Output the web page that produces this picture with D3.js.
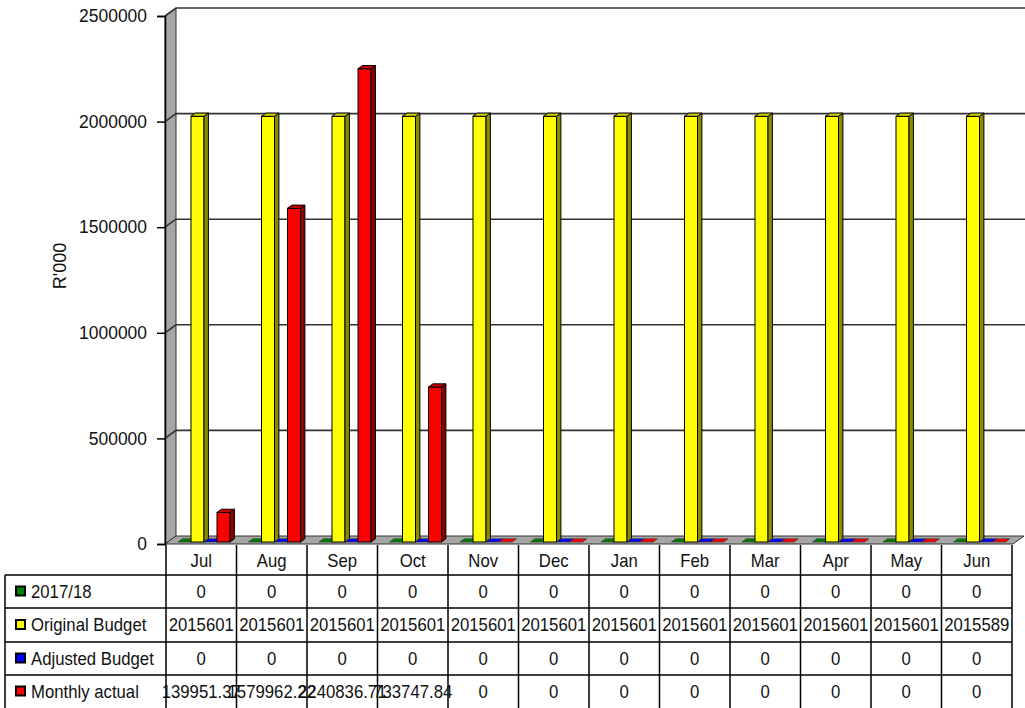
<!DOCTYPE html>
<html><head><meta charset="utf-8">
<script src="https://cdn.jsdelivr.net/npm/d3@7"></script>
<style>
body{margin:0;background:#fff;}
text{font-family:"Liberation Sans",Arial,sans-serif;fill:#111;}
</style></head>
<body>
<svg id="c" width="1025" height="708"></svg>
<script>
const months = ["Jul","Aug","Sep","Oct","Nov","Dec","Jan","Feb","Mar","Apr","May","Jun"];
const seriesNames = ["2017/18","Original Budget","Adjusted Budget","Monthly actual"];
const seriesColors = ["#008000","#ffff00","#0000ff","#ff0000"];
const sideColors = ["#004000","#8c8c00","#00008c","#8c0000"];
const topColors = ["#006000","#d0d000","#0000c0","#d00000"];
const v2017 = [0,0,0,0,0,0,0,0,0,0,0,0];
const originalBudget = [2015601,2015601,2015601,2015601,2015601,2015601,2015601,2015601,2015601,2015601,2015601,2015589];
const adjustedBudget = [0,0,0,0,0,0,0,0,0,0,0,0];
const monthlyActual = [139951.37,1579962.22,2240836.71,733747.84,0,0,0,0,0,0,0,0];
const actualLabels = ["139951.37","1579962.22","2240836.71","733747.84","0","0","0","0","0","0","0","0"];
const yTicks = [0,500000,1000000,1500000,2000000,2500000];

const series = [v2017, originalBudget, adjustedBudget, monthlyActual];
const labels = [v2017.map(String), originalBudget.map(String), adjustedBudget.map(String), actualLabels];

const svg = d3.select("#c");
const FX0 = 165, FX1 = 1013, DX = 11, DY = -8;
const y = d3.scaleLinear().domain([0,2500000]).range([544,16]);
const x0 = d3.scaleBand().domain(months).range([166,1012]).paddingInner(0.262).paddingOuter(0.131);
const x1 = d3.scaleBand().domain(d3.range(4)).range([0,x0.bandwidth()]);
const step = x0.step();

function addText(parent, x, yy, str, anchor, size, sx){
  return parent.append("text")
    .attr("transform",`translate(${x},${yy}) scale(${sx},1)`)
    .attr("dy","0.36em").attr("text-anchor",anchor).attr("font-size",size).text(str);
}

// back wall
svg.append("rect").attr("x",FX0+DX).attr("y",y(2500000)+DY).attr("width",1025-(FX0+DX)).attr("height",y(0)-y(2500000)).attr("fill","#fff");
// left wall
svg.append("polygon").attr("points",[[FX0,y(0)],[FX0,y(2500000)],[FX0+DX,y(2500000)+DY],[FX0+DX,y(0)+DY]].join(" "))
  .attr("fill","#a6a6a6").attr("stroke","#333").attr("stroke-width",1);
// gridlines
yTicks.filter(t=>t>0).forEach(t=>{
  svg.append("path").attr("d",`M${FX0},${y(t)}L${FX0+DX},${y(t)+DY}L1025,${y(t)+DY}`)
    .attr("fill","none").attr("stroke","#333").attr("stroke-width",1.6);
});
// floor
svg.append("polygon").attr("points",[[FX0,y(0)],[FX1,y(0)],[FX1+DX,y(0)+DY],[FX0+DX,y(0)+DY]].join(" "))
  .attr("fill","#a6a6a6").attr("stroke","#333").attr("stroke-width",1);

// bars
const fo = {x:DX*0.25, y:DY*0.25};
const bd = {x:DX*0.4, y:DY*0.4};
const g = svg.append("g");
months.forEach((m,i)=>{
  for(let s=0;s<4;s++){
    const v = series[s][i];
    const l = x0(m)+x1(s)+fo.x, r = l + x1.bandwidth();
    const b = y(0)+fo.y, t = y(v)+fo.y;
    const topPts = [[l,t],[l+bd.x,t+bd.y],[r+bd.x,t+bd.y],[r,t]];
    if(v>0){
      g.append("rect").attr("x",l).attr("y",t).attr("width",r-l).attr("height",b-t)
        .attr("fill",seriesColors[s]).attr("stroke","#000").attr("stroke-width",1);
      g.append("polygon").attr("points",[[r,t],[r+bd.x,t+bd.y],[r+bd.x,b+bd.y],[r,b]].join(" "))
        .attr("fill",sideColors[s]).attr("stroke","#000").attr("stroke-width",1);
      g.append("polygon").attr("points",topPts.join(" "))
        .attr("fill",topColors[s]).attr("stroke","#000").attr("stroke-width",1);
    } else {
      g.append("polygon").attr("points",topPts.join(" "))
        .attr("fill",seriesColors[s]).attr("stroke","#333").attr("stroke-width",0.6);
    }
  }
});

// axis
const ax = svg.append("g").attr("transform",`translate(${FX0},0)`)
  .call(d3.axisLeft(y).tickValues(yTicks).tickFormat(d3.format("d")).tickSize(8).tickPadding(10));
ax.select(".domain").attr("stroke","#000").attr("stroke-width",1.5);
ax.selectAll(".tick line").attr("stroke","#000").attr("stroke-width",1.5);
ax.selectAll(".tick text").attr("font-size",18).attr("font-family","Liberation Sans, Arial, sans-serif").attr("fill","#111")
  .attr("transform","scale(0.97,1)").attr("x",-18/0.97);

svg.append("text").attr("transform","translate(66,266) rotate(-90)").attr("text-anchor","middle")
  .attr("font-size",18).text("R'000");

// table
const T = svg.append("g");
const rowY = [545,575,608,642,675,708];
const lineAttr = sel => sel.attr("stroke","#000").attr("stroke-width",1.5);
for(let k=0;k<=12;k++){
  const xx = 166 + k*step;
  lineAttr(T.append("line").attr("x1",xx).attr("x2",xx).attr("y1",rowY[0]).attr("y2",708));
}
lineAttr(T.append("line").attr("x1",5).attr("x2",5).attr("y1",575).attr("y2",708));
[575,608,642,675].forEach(yy=>lineAttr(T.append("line").attr("x1",5).attr("x2",1012).attr("y1",yy).attr("y2",yy)));
months.forEach((m,i)=>{
  addText(T, 166+(i+0.5)*step, (rowY[0]+rowY[1])/2+1, m, "middle", 18, 0.93);
});
seriesNames.forEach((n,s)=>{
  const cy = (rowY[s+1]+rowY[s+2])/2;
  T.append("rect").attr("x",16).attr("y",cy-5).attr("width",9).attr("height",9)
    .attr("fill",seriesColors[s]).attr("stroke","#000").attr("stroke-width",2);
  addText(T, 31, cy, n, "start", 18, 0.93);
  labels[s].forEach((lab,i)=>{
    addText(T, 166+(i+0.5)*step, cy, lab, "middle", 18, 0.93);
  });
});
</script>
</body></html>
